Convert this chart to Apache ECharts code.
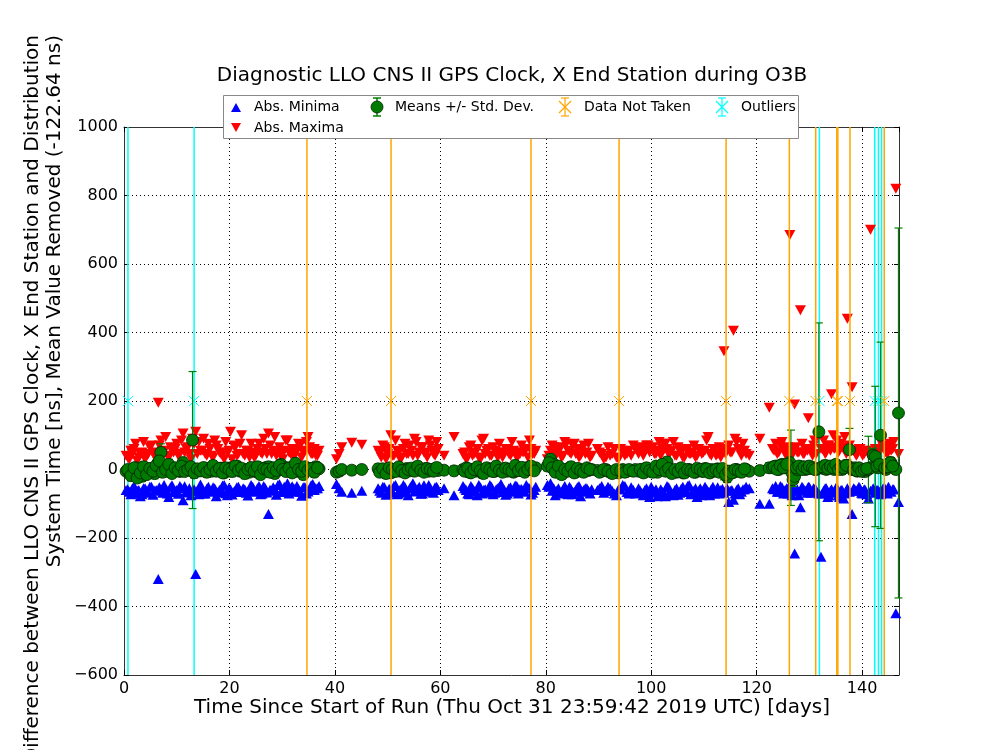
<!DOCTYPE html>
<html>
<head>
<meta charset="utf-8">
<title>Diagnostic LLO CNS II GPS Clock</title>
<script src="https://cdn.jsdelivr.net/npm/echarts@6/dist/echarts.min.js"></script>
<style>
  html, body { margin: 0; padding: 0; background: #fff; }
  #chart { width: 1000px; height: 750px; }
</style>
</head>
<body>
<div id="chart"></div>
<script>
// time since start of run [days]
var days = [
  0.4, 1.0, 1.6, 2.2, 2.8, 3.4, 4.0, 4.6, 5.2, 5.8, 6.5, 7.0, 7.6, 8.2, 8.8, 9.4, 10.0, 10.6, 11.2, 11.8,
  12.4, 13.0, 13.6, 14.2, 14.8, 15.4, 16.0, 16.6, 17.2, 17.8, 18.4, 19.0, 19.6, 20.2, 20.8, 21.4, 22.0, 22.6, 23.2, 23.8,
  24.4, 25.0, 25.6, 26.2, 26.8, 27.4, 28.0, 28.6, 29.2, 29.8, 30.4, 31.0, 31.6, 32.2, 32.8, 33.4, 34.0, 34.6, 35.2, 35.8,
  36.4, 37.0,
  40.3, 40.8, 41.3, 43.2, 45.1,
  48.2, 48.8, 49.4, 50.0, 50.6, 51.2, 51.8, 52.4, 53.0, 53.6, 54.2, 54.8, 55.4, 56.0, 56.6, 57.2, 57.8, 58.4, 59.0, 59.6,
  60.7, 62.6,
  64.3, 64.9, 65.5, 66.1, 66.7, 67.3, 67.9, 68.5, 69.1, 69.7, 70.3, 70.9, 71.5, 72.1, 72.7, 73.3, 73.9, 74.5, 75.1, 75.7,
  76.3, 76.9, 77.5, 78.1,
  80.3, 80.9, 81.5, 82.1, 82.7, 83.3, 83.9, 84.5, 85.1, 85.7, 86.3, 86.9, 87.5, 88.1, 88.7,
  89.8, 90.6, 91.4, 92.2, 93.0, 93.8, 94.6, 95.4, 96.2, 97.0,
  97.6, 98.2, 98.8, 99.4, 100.0, 100.6, 101.2, 101.8, 102.4, 103.0, 103.6, 104.2, 104.8, 105.4, 106.0, 106.6, 107.2, 107.8,
  108.4, 109.0, 109.6, 110.2, 110.8, 111.4, 112.0, 112.6, 113.2, 113.8, 114.4, 115.0, 115.6, 116.2, 116.8, 117.4, 118.0,
  118.6, 120.6, 122.4,
  123.0, 123.6, 124.2, 124.8, 125.4, 125.9, 126.3, 126.5, 126.7, 126.9, 127.2, 127.7, 128.3, 128.8, 129.3, 129.8, 130.3,
  130.8, 131.3, 131.8, 132.2, 132.7, 133.2, 133.7, 134.2, 134.7, 135.2, 135.7, 136.2, 136.7, 137.2, 137.6, 138.1, 138.6,
  139.1, 139.6, 140.1, 140.6, 141.2, 141.6, 142.1, 142.5, 143.0, 143.5, 144.0, 144.5, 145.0, 145.5, 146.0, 146.4, 146.9,
  // second pass of the dense stretches
  0.7, 1.3, 1.9, 2.5, 3.1, 3.7, 4.3, 4.9, 5.5, 6.1, 6.7, 7.3, 7.9, 8.5, 9.1, 9.7, 10.3, 10.9, 11.5, 12.1,
  12.7, 13.3, 13.9, 14.5, 15.1, 15.7, 16.3, 16.9, 17.5, 18.1, 18.7, 19.3, 19.9, 20.5, 21.1, 21.7, 22.3, 22.9, 23.5, 24.1,
  24.7, 25.3, 25.9, 26.5, 27.1, 27.7, 28.3, 28.9, 29.5, 30.1, 30.7, 31.3, 31.9, 32.5, 33.1, 33.7, 34.3, 34.9, 35.5, 36.1,
  36.7,
  48.5, 49.1, 49.7, 50.3, 50.9, 51.5, 52.1, 52.7, 53.3, 53.9, 54.5, 55.1, 55.7, 56.3, 56.9, 57.5, 58.1, 58.7, 59.3,
  64.6, 65.2, 65.8, 66.4, 67.0, 67.6, 68.2, 68.8, 69.4, 70.0, 70.6, 71.2, 71.8, 72.4, 73.0, 73.6, 74.2, 74.8, 75.4, 76.0,
  76.6, 77.2, 77.8,
  80.6, 81.2, 81.8, 82.4, 83.0, 83.6, 84.2, 84.8, 85.4, 86.0, 86.6, 87.2, 87.8, 88.4,
  90.2, 91.0, 91.8, 92.6, 93.4, 94.2, 95.0, 95.8, 96.6,
  97.9, 98.5, 99.1, 99.7, 100.3, 100.9, 101.5, 102.1, 102.7, 103.3, 103.9, 104.5, 105.1, 105.7, 106.3, 106.9, 107.5,
  108.1, 108.7, 109.3, 109.9, 110.5, 111.1, 111.7, 112.3, 112.9, 113.5, 114.1, 114.7, 115.3, 115.9, 116.5, 117.1, 117.7,
  123.3, 123.9, 124.5, 125.1, 125.7, 127.5, 128.0, 128.6, 129.0, 129.6, 130.0, 130.6, 131.0, 132.5, 133.0, 133.5, 134.0,
  134.5, 135.0, 135.5, 136.0, 136.5, 137.0, 138.4, 138.9, 139.4, 139.9, 140.4, 140.9, 142.8, 143.3, 144.3, 144.8, 145.3,
  145.8
];
// absolute minima [ns]
var minima = [
  -60, -65, -55, -70, -60, -72, -55, -68, -50, -62, -320, -58, -45, -70, -52, -66, -60, -48, -90, -64,
  -55, -62, -305, -72, -58, -70, -50, -63, -55, -67, -60, -45, -75, -58, -66, -52, -62, -55, -68, -60,
  -50, -65, -48, -70, -55, -130, -62, -58, -45, -66, -50, -40, -60, -55, -48, -65, -52, -70, -58, -42,
  -55, -48,
  -42, -55, -65, -68, -62,
  -55, -68, -52, -70, -60, -48, -72, -58, -45, -66, -55, -40, -62, -50, -70, -58, -45, -65, -52, -60,
  -55, -75,
  -48, -60, -72, -55, -65, -45, -70, -58, -62, -50, -68, -55, -42, -60, -70, -52, -65, -48, -58, -62,
  -45, -55, -68, -50,
  -45, -40, -55, -62, -70, -58, -66, -50, -72, -60, -48, -65, -55, -62, -58,
  -60, -48, -62, -55, -70, -58, -45, -66, -52, -70,
  -55, -68, -60, -72, -50, -65, -78, -58, -70, -48, -62, -75, -55, -68, -50, -60, -45, -70,
  -55, -62, -75, -50, -65, -58, -70, -52, -60, -68, -55, -62, -88, -60, -72, -58, -50,
  -55, -100, -100,
  -55, -48, -65, -52, -60, -70, -45, -62, -75, -50, -245, -58, -110, -55, -62, -50, -68,
  -55, -60, -70, -255, -62, -55, -75, -58, -65, -52, -80, -60, -70, -55, -65, -130, -58,
  -62, -55, -70, -60, -85, -62, -55, -68, -60, -72, -55, -62, -50, -65, -58, -420, -95,
  -58, -72, -48, -62, -78, -55, -66, -50, -74, -60, -52, -68, -57, -80, -46, -63, -71, -55, -49, -67,
  -75, -58, -62, -44, -70, -56, -65, -52, -78, -60, -47, -69, -54, -73, -61, -50, -66, -58, -76, -45,
  -63, -55, -72, -48, -67, -59, -52, -74, -43, -62, -56, -70, -49, -65, -58, -77, -51, -64, -46, -60,
  -55,
  -62, -50, -74, -56, -66, -45, -70, -60, -52, -75, -48, -64, -58, -71, -46, -63, -55, -68, -50,
  -55, -70, -48, -63, -75, -52, -60, -68, -45, -72, -58, -50, -66, -74, -55, -62, -47, -70, -57, -65,
  -52, -73, -60,
  -50, -62, -75, -55, -68, -48, -72, -58, -65, -52, -78, -60, -55, -70,
  -55, -68, -50, -62, -75, -58, -48, -70, -60,
  -62, -75, -55, -80, -68, -58, -72, -65, -78, -52, -70, -60, -74, -56, -66, -48, -72,
  -62, -80, -55, -68, -58, -75, -50, -65, -70, -56, -62, -95, -60, -70, -55, -65, -58,
  -58, -65, -48, -70, -55, -62, -75, -50, -60, -68, -52, -64, -58, -70, -55, -80, -62,
  -68, -55, -75, -60, -85, -65, -55, -62, -50, -68, -58, -72, -60, -65, -55, -70, -62,
  -58
];
// absolute maxima [ns]
var maxima = [
  40, 30, 45, 75, 35, 50, 30, 45, 70, 40, 195, 85, 55, 40, 65, 50, 75, 45, 105, 60,
  45, 90, 110, 80, 55, 45, 75, 40, 85, 60, 45, 30, 50, 110, 70, 40, 75, 45, 55, 35,
  50, 40, 75, 45, 60, 105, 45, 95, 50, 40, 55, 85, 45, 35, 60, 70, 50, 80, 65, 45,
  40, 55,
  30, 45, 65, 78, 72,
  55, 35, 65, 45, 100, 40, 55, 30, 60, 45, 70, 40, 80, 50, 65, 45, 85, 55, 40, 60,
  40, 95,
  45, 30, 65, 40, 50, 35, 85, 45, 60, 40, 55, 35, 50, 45, 60, 40, 55, 35, 45, 50,
  60, 85, 45, 55,
  30, 55, 65, 45, 60, 40, 75, 50, 70, 45, 35, 60, 45, 75, 40,
  60, 45, 35, 40, 60, 30, 55, 45, 40, 60,
  45, 65, 55, 70, 60, 45, 55, 40, 75, 60, 50, 80, 40, 55, 35, 60, 45, 50,
  35, 60, 45, 55, 95, 40, 60, 45, 35, 345, 60, 50, 405, 80, 55, 75, 45,
  40, 90, 180,
  60, 75, 50, 80, 45, 65, 685, 55, 40, 60, 190, 50, 465, 45, 60, 150, 55,
  70, 45, 100, 60, 85, 50, 70, 220, 60, 85, 55, 65, 95, 440, 70, 240, 50,
  45, 60, 40, 55, 45, 700, 50, 60, 45, 80, 65, 50, 70, 55, 80, 820, 45,
  35, 55, 60, 25, 45, 80, 40, 65, 50, 30, 70, 45, 95, 35, 55, 60, 40, 85, 50, 65,
  30, 75, 45, 55, 90, 40, 60, 35, 70, 50, 45, 80, 55, 30, 65, 45, 100, 40, 55, 75,
  35, 60, 50, 90, 45, 70, 55, 40, 65, 30, 85, 50, 60, 45, 75, 35, 55, 95, 45, 60,
  40,
  45, 70, 30, 60, 40, 85, 50, 35, 75, 45, 55, 90, 40, 65, 50, 35, 70, 45, 80,
  50, 35, 70, 45, 60, 30, 90, 55, 40, 65, 50, 75, 35, 60, 45, 80, 50, 40, 70, 55,
  35, 60, 45,
  40, 70, 50, 65, 35, 80, 55, 45, 75, 60, 40, 70, 50, 35,
  50, 30, 65, 45, 35, 60, 40, 55, 70,
  55, 40, 70, 50, 65, 45, 80, 60, 75, 45, 55, 40, 65, 50, 35, 60, 45,
  70, 40, 55, 50, 85, 45, 60, 40, 65, 55, 45, 70, 50, 90, 60, 40, 55,
  55, 45, 70, 60, 40, 65, 50, 75, 45, 55, 60, 40, 85, 60, 45, 70, 55,
  100, 65, 50, 75, 60, 45, 55, 40, 60, 50, 45, 55, 60, 50, 65, 45, 75,
  60
];
// means [ns]
var means = [
  -5, -8, 0, 5, -15, -20, -10, 2, -8, -12, 20, 50, 8, -5, 0, -3, 2, -6, 20, 5,
  -2, 86, 0, -4, 0, -2, 3, -5, 0, -3, 4, -10, -2, 5, 0, 10, -5, 0, -3, -8,
  2, -6, -10, 0, 5, 8, 0, -12, 3, 15, -2, 5, 0, 10, -5, 0, -15, 5, 0, 3,
  8, 2,
  -8, -5, 0, -2, 0,
  2, -5, 0, -8, -10, -3, 0, -5, -2, 3, -4, 0, 5, -2, 0, 3, -5, 0, 2, -3,
  -2, -4,
  0, 5, -8, 0, -5, 3, -10, 0, -3, 2, -5, 0, -2, 3, -5, 0, -8, 2, -3, 5,
  0, 8, 2, 5,
  10, 30, 15, 0, -5, -10, -3, 5, 0, -8, 2, -5, 0, -3, 0,
  -3, -5, 0, -8, -5, -10, 0, -5, -3, 0,
  -5, 0, -8, -3, 0, -5, -8, 5, 12, 22, 0, -5, -8, 0, -10, -5, 0, -3,
  -8, 0, -5, 3, -2, 0, -5, 2, -3, -10, -22, -5, -8, 0, -5, -3, 0,
  -5, -3, 5,
  5, 10, 0, 15, 5, 10, 20, 5, -10, -30, -20, 0, 8, 5, 0, 8, 3,
  5, 0, 110, 5, 3, 0, 8, 5, 0, 10, 5, 0, 8, 12, 58, 0, 5,
  -5, 0, -5, -6, 0, 5, 42, 38, 5, 100, 10, 0, 15, 20, 5, 0, 165,
  0, -18, 5, -25, -10, 8, -15, 3, -5, 12, 25, -8, 0, 15, -12, 5, -3, 10, -6, 0,
  8, -10, 2, -4, 6, -8, 0, 12, -5, 3, -10, 5, 0, -6, 10, -2, 4, -12, 0, 6,
  -4, 8, -15, 2, 0, -8, 5, -3, 12, 0, -6, 4, -10, 18, 0, -5, 8, -2, 3, -8,
  5,
  -8, 2, -12, 5, 0, -6, 8, -3, -10, 0, 4, -5, 10, -2, -8, 3, 0, -5, 6,
  -5, 3, -10, 0, 8, -3, -12, 5, 0, -6, 10, -2, -8, 4, 0, -5, 12, -3, 6, -8,
  0, 10, -4,
  20, 5, -8, 10, -15, 0, -5, 8, -10, 3, -3, -8, 5, 0,
  -8, 0, -5, -12, 0, -3, -8, 0, -5,
  0, -10, 5, -3, -8, 10, 0, 15, -5, 3, -12, 0, -6, 5, -10, 0, -3,
  -8, 4, 0, -6, 2, -10, -4, 0, -8, 3, -15, -5, -10, 0, -3, -8, 2,
  8, 0, 12, 5, 15, 5, 10, 0, 8, 3, 10, 5, 0, 8, 12, 3, 10,
  5, 15, 0, 8, 5, 12, 0, -3, 5, -5, 0, 3, 10, 15, 5, 8, 20,
  10
];
// standard deviations [ns]
var stdDevs = [
  12, 14, 12, 15, 12, 15, 12, 14, 13, 15, 18, 25, 14, 12, 15, 12, 14, 12, 16, 14,
  12, 200, 15, 12, 13, 12, 14, 12, 13, 12, 15, 12, 14, 15, 12, 14, 12, 13, 12, 12,
  14, 12, 13, 12, 14, 15, 12, 14, 12, 14, 12, 15, 13, 14, 12, 13, 14, 15, 12, 12,
  14, 12,
  12, 14, 12, 13, 12,
  14, 12, 15, 12, 14, 12, 13, 12, 14, 12, 13, 12, 14, 12, 13, 12, 14, 12, 13, 12,
  13, 14,
  14, 12, 15, 12, 13, 12, 14, 12, 13, 12, 14, 12, 13, 12, 14, 12, 13, 12, 14, 12,
  13, 14, 12, 13,
  14, 16, 14, 12, 13, 14, 12, 13, 14, 12, 13, 12, 14, 12, 13,
  13, 12, 14, 12, 13, 12, 14, 12, 13, 12,
  12, 14, 12, 13, 14, 12, 13, 14, 15, 14, 12, 13, 14, 12, 13, 14, 12, 13,
  12, 14, 12, 13, 14, 12, 13, 12, 14, 20, 16, 14, 15, 14, 12, 13, 12,
  12, 14, 15,
  14, 15, 12, 14, 13, 15, 16, 110, 14, 20, 18, 14, 16, 14, 13, 14, 15,
  14, 13, 318, 14, 13, 14, 15, 14, 13, 14, 15, 14, 13, 16, 62, 15, 14,
  13, 14, 13, 14, 97, 14, 20, 205, 14, 272, 15, 14, 16, 15, 14, 14, 540,
  13, 15, 12, 14, 13, 15, 12, 14, 13, 15, 12, 14, 13, 15, 12, 14, 13, 15, 12, 14,
  13, 15, 12, 14, 13, 15, 12, 14, 13, 15, 12, 14, 13, 15, 12, 14, 13, 15, 12, 14,
  13, 15, 12, 14, 13, 15, 12, 14, 13, 15, 12, 14, 13, 15, 12, 14, 13, 15, 12, 14,
  13,
  13, 12, 14, 12, 15, 13, 12, 14, 12, 13, 14, 12, 13, 15, 12, 14, 13, 12, 14,
  13, 14, 12, 15, 13, 12, 14, 13, 12, 15, 14, 12, 13, 12, 14, 13, 15, 12, 14, 13,
  12, 14, 13,
  15, 14, 13, 12, 14, 13, 12, 14, 13, 12, 15, 13, 12, 14,
  12, 13, 14, 12, 13, 12, 14, 13, 12,
  13, 12, 14, 13, 15, 12, 14, 13, 12, 15, 13, 14, 12, 13, 14, 12, 15,
  13, 12, 14, 13, 12, 14, 13, 15, 12, 14, 13, 16, 14, 13, 12, 14, 13,
  14, 13, 15, 14, 16, 14, 13, 15, 14, 13, 14, 15, 13, 14, 15, 14, 13,
  15, 14, 13, 15, 14, 16, 13, 14, 13, 14, 15, 13, 16, 14, 15, 14, 16,
  15
];
// errorbar markers for gaps and flagged days
var notTakenDays = [34.7, 50.65, 77.2, 93.9, 114.2, 126.2, 131.2, 135.2, 135.4, 137.7, 144.2];
var outlierDays = [0.75, 13.3, 131.9, 142.4, 143.1, 143.7];
var markerLevel = 200;
var markerSpread = 5000;

var xMin = 0, xMax = 147, xStep = 20;
var yMin = -600, yMax = 1000, yStep = 200;

var FONT = 'DejaVu Sans';

var myChart = echarts.init(document.getElementById('chart'));

function pairs(a, b) {
  return a.map(function (v, i) { return [v, b[i]]; });
}

function triples(a, b, c) {
  return a.map(function (v, i) { return [v, b[i], c[i]]; });
}

/*
 * error bar drawn through the axis scales, clipped to the y range
 */
function errorBar(color, capHalf, crossHalf, width) {
  return function (params, api) {
    var x = api.value(0), m = api.value(1), s = api.value(2);
    var lo = Math.max(m - s, yMin), hi = Math.min(m + s, yMax);
    var pLo = api.coord([x, lo]), pHi = api.coord([x, hi]);
    var st = { stroke: color, lineWidth: width };
    var kids = [{ type: 'line', shape: { x1: pLo[0], y1: pLo[1], x2: pHi[0], y2: pHi[1] }, style: st }];
    if (capHalf > 0 && m - s >= yMin) {
      kids.push({ type: 'line', shape: { x1: pLo[0] - capHalf, y1: pLo[1], x2: pLo[0] + capHalf, y2: pLo[1] }, style: st });
    }
    if (capHalf > 0 && m + s <= yMax) {
      kids.push({ type: 'line', shape: { x1: pHi[0] - capHalf, y1: pHi[1], x2: pHi[0] + capHalf, y2: pHi[1] }, style: st });
    }
    if (crossHalf > 0) {
      var c = api.coord([x, m]);
      var cs = { stroke: color, lineWidth: 1 };
      kids.push({ type: 'line', shape: { x1: c[0] - crossHalf, y1: c[1] - crossHalf, x2: c[0] + crossHalf, y2: c[1] + crossHalf }, style: cs });
      kids.push({ type: 'line', shape: { x1: c[0] - crossHalf, y1: c[1] + crossHalf, x2: c[0] + crossHalf, y2: c[1] - crossHalf }, style: cs });
    }
    return { type: 'group', children: kids };
  };
}

var spreadList = function (list) {
  return list.map(function (d) { return [d, markerLevel, markerSpread]; });
};

var frame = { show: true, onZero: false, lineStyle: { color: '#333', width: 1 } };
var tickIn = { show: true, inside: true, length: 5, lineStyle: { color: '#000' } };
var grid = { type: [1, 3], color: '#000', width: 1 };

// legend drawn by hand so it sits in two rows, four columns like the original
function legendGraphics() {
  var g = [];
  var r1 = 107, r2 = 128;
  g.push({ type: 'rect', shape: { x: 223.5, y: 95.5, width: 575, height: 43 },
    style: { fill: '#fff', stroke: '#888', lineWidth: 1 }, z: 100 });
  g.push({ type: 'polygon', shape: { points: [[231, r1 + 5], [241, r1 + 5], [236, r1 - 4]] }, style: { fill: '#0000ff' }, z: 101 });
  g.push({ type: 'polygon', shape: { points: [[231, r2 - 5], [241, r2 - 5], [236, r2 + 4]] }, style: { fill: '#ff0000' }, z: 101 });
  // means icon
  g.push({ type: 'line', shape: { x1: 377, y1: r1 - 9, x2: 377, y2: r1 + 9 }, style: { stroke: '#008000', lineWidth: 1.5 }, z: 101 });
  g.push({ type: 'line', shape: { x1: 373, y1: r1 - 9, x2: 381, y2: r1 - 9 }, style: { stroke: '#008000', lineWidth: 1.5 }, z: 101 });
  g.push({ type: 'line', shape: { x1: 373, y1: r1 + 9, x2: 381, y2: r1 + 9 }, style: { stroke: '#008000', lineWidth: 1.5 }, z: 101 });
  g.push({ type: 'circle', shape: { cx: 377, cy: r1, r: 6 }, style: { fill: '#007a00', stroke: '#002200', lineWidth: 0.8 }, z: 102 });
  // cross icons
  [[565, '#ffa500'], [722, '#00ffff']].forEach(function (c) {
    var x = c[0], col = c[1];
    var st = { stroke: col, lineWidth: 1.2 };
    g.push({ type: 'line', shape: { x1: x, y1: r1 - 9, x2: x, y2: r1 + 9 }, style: st, z: 101 });
    g.push({ type: 'line', shape: { x1: x - 4, y1: r1 - 9, x2: x + 4, y2: r1 - 9 }, style: st, z: 101 });
    g.push({ type: 'line', shape: { x1: x - 4, y1: r1 + 9, x2: x + 4, y2: r1 + 9 }, style: st, z: 101 });
    g.push({ type: 'line', shape: { x1: x - 6, y1: r1 - 6, x2: x + 6, y2: r1 + 6 }, style: st, z: 101 });
    g.push({ type: 'line', shape: { x1: x - 6, y1: r1 + 6, x2: x + 6, y2: r1 - 6 }, style: st, z: 101 });
  });
  var labels = [[254, r1, 'Abs. Minima'], [254, r2, 'Abs. Maxima'], [395, r1, 'Means +/- Std. Dev.'],
    [584, r1, 'Data Not Taken'], [741, r1, 'Outliers']];
  labels.forEach(function (l) {
    g.push({ type: 'text', x: l[0], y: l[1], z: 101,
      style: { text: l[2], font: '14px ' + FONT, fill: '#000', textAlign: 'left', textVerticalAlign: 'middle',
        align: 'left', verticalAlign: 'middle' } });
  });
  return g;
}

var texts = [
  { type: 'text', x: 512, y: 76,
    style: { text: 'Diagnostic LLO CNS II GPS Clock, X End Station during O3B', font: '20px ' + FONT, fill: '#000',
      textAlign: 'center', textVerticalAlign: 'middle', align: 'center', verticalAlign: 'middle' } },
  { type: 'text', x: 512, y: 708,
    style: { text: 'Time Since Start of Run (Thu Oct 31 23:59:42 2019 UTC) [days]', font: '20px ' + FONT, fill: '#000',
      textAlign: 'center', textVerticalAlign: 'middle', align: 'center', verticalAlign: 'middle' } },
  { type: 'text', x: 33, y: 35, rotation: Math.PI / 2,
    style: { text: 'Difference between LLO CNS II GPS Clock, X End Station and Distribution', font: '20px ' + FONT, fill: '#000',
      textAlign: 'right', textVerticalAlign: 'middle', align: 'right', verticalAlign: 'middle' } },
  { type: 'text', x: 55, y: 35, rotation: Math.PI / 2,
    style: { text: 'System Time [ns], Mean Value Removed (-122.64 ns)', font: '20px ' + FONT, fill: '#000',
      textAlign: 'right', textVerticalAlign: 'middle', align: 'right', verticalAlign: 'middle' } }
];

var option = {
  backgroundColor: '#fff',
  animation: false,
  grid: { left: 124, right: 101, top: 127, bottom: 75, containLabel: false },
  xAxis: [{
    type: 'value', min: xMin, max: xMax, interval: xStep,
    axisLine: frame, axisTick: tickIn,
    axisLabel: { color: '#000', fontFamily: FONT, fontSize: 16, margin: 6, showMaxLabel: false },
    splitLine: { show: true, lineStyle: grid }
  }, {
    type: 'value', position: 'top', min: xMin, max: xMax, interval: xStep,
    axisLine: frame, axisTick: tickIn, axisLabel: { show: false }, splitLine: { show: false }
  }],
  yAxis: [{
    type: 'value', min: yMin, max: yMax, interval: yStep,
    axisLine: frame, axisTick: tickIn,
    axisLabel: { color: '#000', fontFamily: FONT, fontSize: 16, margin: 6,
      // matplotlib prints a real minus sign
      formatter: function (v) { return v < 0 ? '\u2212' + Math.abs(v) : String(v); } },
    splitLine: { show: true, lineStyle: grid }
  }, {
    type: 'value', position: 'right', min: yMin, max: yMax, interval: yStep,
    axisLine: frame, axisTick: tickIn, axisLabel: { show: false }, splitLine: { show: false }
  }],
  graphic: texts.concat(legendGraphics()),
  series: [{
    name: 'Outliers', type: 'custom', z: 1,
    renderItem: errorBar('#00ffff', 0, 5, 1.5),
    encode: { x: 0, y: 1 },
    data: spreadList(outlierDays)
  }, {
    name: 'Abs. Minima', type: 'scatter', z: 2,
    symbol: 'triangle', symbolSize: [11, 10],
    itemStyle: { color: '#0000ff', opacity: 1 },
    data: pairs(days, minima)
  }, {
    name: 'Abs. Maxima', type: 'scatter', z: 3,
    symbol: 'path://M0,0 L10,0 L5,9 Z', symbolSize: [11, 10],
    itemStyle: { color: '#ff0000', opacity: 1 },
    data: pairs(days, maxima)
  }, {
    name: 'Std. Dev.', type: 'custom', z: 4,
    renderItem: errorBar('#008000', 4, 0, 1.2),
    encode: { x: 0, y: 1 },
    data: triples(days, means, stdDevs)
  }, {
    name: 'Means +/- Std. Dev.', type: 'scatter', z: 5,
    symbol: 'circle', symbolSize: 12,
    itemStyle: { color: '#007a00', borderColor: '#002200', borderWidth: 0.8, opacity: 1 },
    data: pairs(days, means)
  }, {
    name: 'Data Not Taken', type: 'custom', z: 6,
    renderItem: errorBar('#ffa500', 0, 5, 1.5),
    encode: { x: 0, y: 1 },
    data: spreadList(notTakenDays)
  }]
};
myChart.setOption(option);
</script>
</body>
</html>
